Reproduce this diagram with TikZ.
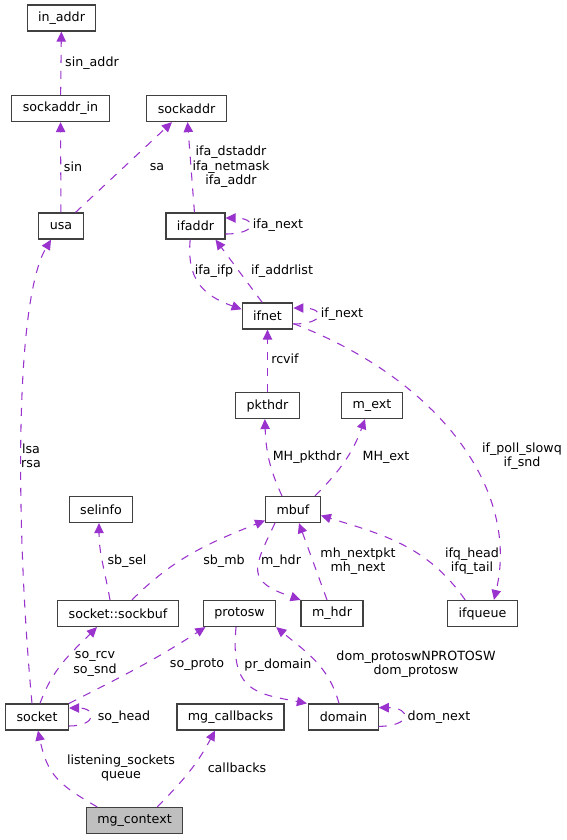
\documentclass[tikz,border=0pt]{standalone}
\usepackage{fontspec}
\setmainfont{DejaVu Sans}
\usetikzlibrary{arrows.meta}
\definecolor{relcol}{HTML}{9A32CD}
\definecolor{boxcol}{HTML}{404040}
\definecolor{ctxgray}{HTML}{BFBFBF}
\begin{document}
\begin{tikzpicture}[x=0.75pt,y=0.75pt,font=\fontsize{9.5}{10.9}\selectfont,
  cls/.style={draw=boxcol,line width=0.9pt,fill=white,inner xsep=8.2pt,inner ysep=0pt,minimum height=19.5pt},
  rel/.style={draw=relcol,line width=0.8pt,dash pattern=on 6pt off 6pt,-{Triangle[length=7.5pt,width=7pt]}},
  lbl/.style={align=center}]
\useasboundingbox (0,0) rectangle (567,-840);
\node[cls] (inaddr) at (61.5,-18) {in\_addr};
\node[cls] (sockaddrin) at (60.5,-108.5) {sockaddr\_in};
\node[cls] (sockaddr) at (186.5,-108.5) {sockaddr};
\node[cls] (usa) at (61,-226) {usa};
\node[cls] (ifaddr) at (195.5,-226) {ifaddr};
\node[cls] (ifnet) at (267.5,-316) {ifnet};
\node[cls] (pkthdr) at (267.5,-405.5) {pkthdr};
\node[cls] (mext) at (372,-405.5) {m\_ext};
\node[cls] (selinfo) at (101,-509.5) {selinfo};
\node[cls] (mbuf) at (293,-509.5) {mbuf};
\node[cls] (sockbuf) at (118,-613.5) {socket::sockbuf};
\node[cls] (protosw) at (239.5,-613.5) {protosw};
\node[cls] (mhdr) at (332,-613.5) {m\_hdr};
\node[cls] (ifqueue) at (482.5,-613.5) {ifqueue};
\node[cls] (socket) at (37,-717) {socket};
\node[cls] (callbacks) at (230.5,-717) {mg\_callbacks};
\node[cls] (domain) at (343.5,-717) {domain};
\node[cls,fill=ctxgray] (context) at (134.5,-820.5) {mg\_context};
\draw[rel] (sockaddrin) -- (inaddr) node[lbl] at (92,-63) {sin\_addr};
\draw[rel] (usa) -- (sockaddrin) node[lbl] at (73,-167) {sin};
\draw[rel] (usa) -- (sockaddr) node[lbl] at (157,-167) {sa};
\draw[rel] (ifaddr) -- (sockaddr) node[lbl] at (231,-167) {ifa\_dstaddr\\ifa\_netmask\\ifa\_addr};
\draw[rel] ([yshift=-6pt]ifaddr.east) .. controls +(32,0) and +(32,0) .. ([yshift=6pt]ifaddr.east) node[lbl] at (278,-225) {ifa\_next};
\draw[rel] ([xshift=-4pt]ifaddr.south) to[out=-95,in=160,looseness=1.2] ([yshift=5pt]ifnet.west) node[lbl] at (214,-271) {ifa\_ifp};
\draw[rel] ([xshift=-4pt]ifnet.north) -- ([xshift=-7.5pt]ifaddr.south east) node[lbl] at (282,-271) {if\_addrlist};
\draw[rel] ([yshift=-6pt]ifnet.east) .. controls +(32,0) and +(32,0) .. ([yshift=6pt]ifnet.east) node[lbl] at (342,-314) {if\_next};
\draw[rel] (pkthdr) -- (ifnet) node[lbl] at (285,-359) {rcvif};
\draw[rel] ([yshift=4.5pt]ifnet.south east) .. controls (440,-380) and (520,-490) .. ([xshift=8.6pt]ifqueue.north) node[lbl] at (522,-456) {if\_poll\_slowq\\if\_snd};
\draw[rel] ([xshift=-8.25pt]mbuf.north) to[out=115,in=-88] ([xshift=-2pt]pkthdr.south) node[lbl] at (307,-457) {MH\_pkthdr};
\draw[rel] ([xshift=16.5pt]mbuf.north) to[out=45,in=-110] ([xshift=-5.25pt]mext.south) node[lbl] at (386,-457) {MH\_ext};
\draw[rel] ([xshift=-6pt]sockbuf.north) to[out=100,in=-90] ([xshift=-1.5pt]selinfo.south) node[lbl] at (127,-561) {sb\_sel};
\draw[rel] ([xshift=10.5pt]sockbuf.north) to[out=45,in=-158] ([yshift=2pt]mbuf.south west) node[lbl] at (224,-561) {sb\_mb};
\draw[rel] ([xshift=-13.5pt]mbuf.south) .. controls +(-22,-46) and +(-55,19) .. (mhdr.north west) node[lbl] at (281,-561) {m\_hdr};
\draw[rel] ([xshift=-3.75pt]mhdr.north) -- ([xshift=4.5pt]mbuf.south) node[lbl] at (358,-561) {mh\_nextpkt\\mh\_next};
\draw[rel] ([xshift=-13pt]ifqueue.north) to[out=125,in=-17] ([yshift=-4.5pt]mbuf.east) node[lbl] at (472,-561) {ifq\_head\\ifq\_tail};
\draw[rel] ([xshift=2.25pt]socket.north) to[out=70,in=-135] ([xshift=-15.75pt]sockbuf.south) node[lbl] at (95,-664) {so\_rcv\\so\_snd};
\draw[rel] (socket.north east) to[out=27,in=-147] ([xshift=2pt]protosw.south west) node[lbl] at (197,-665) {so\_proto};
\draw[rel] ([xshift=-2.6pt]protosw.south) .. controls +(-6,-64) and +(-52,10) .. ([xshift=-1pt]domain.north west) node[lbl] at (278,-665) {pr\_domain};
\draw[rel] ([xshift=-3.4pt]domain.north) to[out=105,in=-40] (protosw.south east) node[lbl] at (416,-664) {dom\_protoswNPROTOSW\\dom\_protosw};
\draw[rel] ([yshift=-7pt]domain.east) .. controls +(33,0) and +(33,0) .. ([yshift=7pt]domain.east) node[lbl] at (439,-717) {dom\_next};
\draw[rel] ([yshift=-6.75pt]socket.east) .. controls +(28,0) and +(28,0) .. ([yshift=6.75pt]socket.east) node[lbl] at (124,-717) {so\_head};
\draw[rel] ([xshift=-3.75pt]socket.north) .. controls (15,-520) and (15,-300) .. ([xshift=-7.5pt]usa.south) node[lbl] at (31,-456) {lsa\\rsa};
\draw[rel] ([xshift=-28pt]context.north) to[out=150,in=-78,looseness=1.2] ([xshift=0.75pt]socket.south) node[lbl] at (121,-768) {listening\_sockets\\queue};
\draw[rel] ([xshift=17pt]context.north) to[out=45,in=-118] ([xshift=-11.6pt]callbacks.south) node[lbl] at (237,-768) {callbacks};
\end{tikzpicture}
\end{document}
